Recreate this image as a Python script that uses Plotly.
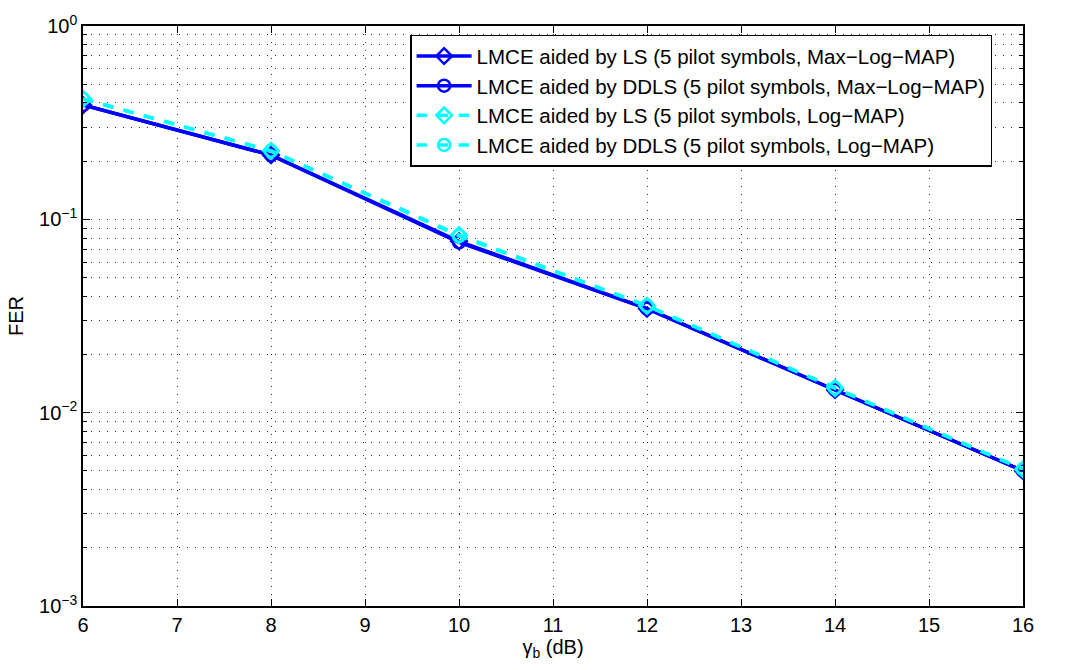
import plotly.graph_objects as go

snr_db = [6, 8, 10, 12, 14, 16]
fer_ls_maxlog = [0.39, 0.215, 0.077, 0.0345, 0.0131, 0.00500]
fer_ddls_maxlog = [0.39, 0.215, 0.076, 0.0345, 0.0131, 0.00500]
fer_ls_log = [0.42, 0.226, 0.083, 0.0357, 0.0134, 0.00510]
fer_ddls_log = [0.42, 0.226, 0.082, 0.0357, 0.0134, 0.00510]

names = [
    "LMCE aided by LS (5 pilot symbols, Max\u2212Log\u2212MAP)",
    "LMCE aided by DDLS (5 pilot symbols, Max\u2212Log\u2212MAP)",
    "LMCE aided by LS (5 pilot symbols, Log\u2212MAP)",
    "LMCE aided by DDLS (5 pilot symbols, Log\u2212MAP)",
]
y_ticks = [1e-3, 1e-2, 1e-1, 1]
y_tick_text = ["10<sup>\u22123</sup>", "10<sup>\u22122</sup>", "10<sup>\u22121</sup>", "10<sup>0</sup>"]
x_ticks = list(range(6, 17))

FONT = "Liberation Sans, Arial, sans-serif"

fig = go.Figure()
series = [
    (fer_ls_maxlog, names[0], "#0000FF", "solid", "diamond-open"),
    (fer_ddls_maxlog, names[1], "#0000FF", "solid", "circle-open"),
    (fer_ls_log, names[2], "#00FFFF", "dash", "diamond-open"),
    (fer_ddls_log, names[3], "#00FFFF", "dash", "circle-open"),
]
for ys, nm, col, dash, sym in series:
    fig.add_trace(go.Scatter(
        x=snr_db, y=ys, name=nm, mode="lines+markers",
        line=dict(color=col, width=3.5, dash=dash),
        marker=dict(symbol=sym, size=12, color=col, line=dict(color=col, width=2.5)),
    ))

GRID_DASH = "1px,7px"
axis_common = dict(
    showline=True, linecolor="black", linewidth=1.5, mirror="ticks",
    ticks="inside", ticklen=7, tickcolor="black",
    showgrid=True, gridcolor="#333333", griddash=GRID_DASH, gridwidth=1,
    zeroline=False, tickfont=dict(family=FONT, size=20, color="black"),
    ticklabeloverflow="allow",
)

fig.update_xaxes(
    range=[6, 16], tickvals=x_ticks,
    title=dict(text="\u03b3<sub>b</sub> (dB)", font=dict(family=FONT, size=20, color="black"), standoff=0),
    **axis_common,
)
fig.update_yaxes(
    type="log", range=[-3, 0], tickvals=y_ticks, ticktext=y_tick_text,
    title=dict(text="FER", font=dict(family=FONT, size=20, color="black"), standoff=10),
    minor=dict(dtick="D1", ticks="inside", ticklen=4, tickcolor="black", showgrid=True,
               gridcolor="#333333", griddash=GRID_DASH, gridwidth=1),
    **axis_common,
)

fig.update_layout(
    width=1071, height=670,
    margin=dict(l=83, r=48, t=12, b=64),
    paper_bgcolor="white", plot_bgcolor="white",
    font=dict(family=FONT, size=20, color="black"),
    legend=dict(
        x=0.348, y=0.985, xanchor="left", yanchor="top",
        bgcolor="white", bordercolor="black", borderwidth=1.5,
        font=dict(family=FONT, size=20.5), tracegroupgap=0, itemwidth=55,
    ),
)

fig.write_html("out.html")
